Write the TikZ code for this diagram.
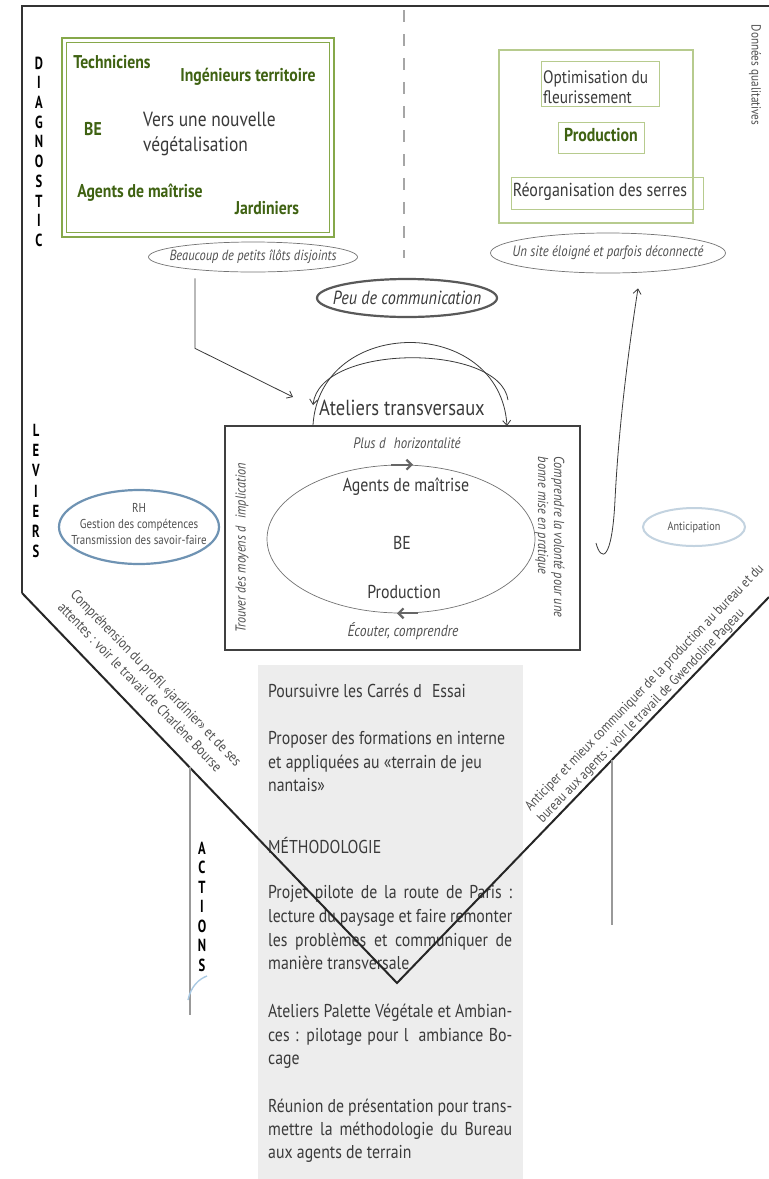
\documentclass[tikz,border=0pt]{standalone}
\usepackage{fontspec}
\usepackage{graphicx}
\setmainfont{PT Sans}[FakeStretch=0.85]
\newfontfamily\lettfont{PT Sans}[FakeStretch=0.72]
\usetikzlibrary{shapes.geometric,arrows.meta}
\definecolor{txt}{HTML}{3A3A3A}
\definecolor{itxt}{HTML}{505050}
\definecolor{gtxt}{HTML}{3F6212}
\definecolor{gline}{HTML}{86A84A}
\definecolor{lgline}{HTML}{B7CB8E}
\definecolor{grayfill}{HTML}{EDEDED}
\definecolor{rhblue}{HTML}{6F93B3}
\definecolor{antblue}{HTML}{C3D3E0}
\definecolor{markblue}{HTML}{A9C9E3}
\newcommand{\fsz}[2]{\fontsize{#1}{#2}\selectfont}
\newcommand{\gp}{\hspace{0.55em}}
\tikzset{
  t/.style={inner sep=0pt, text=txt},
  gb/.style={inner sep=0pt, text=gtxt, font=\fsz{18.5}{20}\bfseries},
  it/.style={inner sep=0pt, text=itxt, font=\fsz{14.7}{16}\itshape},
  oval/.style={ellipse, draw, inner sep=0pt},
  letter/.style={inner sep=0pt, font=\lettfont\fsz{17.5}{20}\bfseries, text=black},
  gl/.style={inner sep=0pt, text=txt, anchor=base west, font=\fsz{18.6}{23.5}},
  arr/.style={-{Straight Barb[length=5pt,width=8pt]}, draw=txt, line width=0.8pt},
  thickarr/.style={-{Straight Barb[length=5pt,width=10pt]}, draw=gray!80!black, line width=2.2pt},
}
\begin{document}
\begin{tikzpicture}[x=1pt,y=-1pt]
\useasboundingbox (0,0) rectangle (769,1179);
\fill[white] (0,0) rectangle (769,1179);

% gray box (actions)
\fill[grayfill] (258,665) rectangle (523,1179);
\node[gl] (g1) at (268,697) {Poursuivre les Carrés d\gp Essai};
\node[gl] (g2) at (268,744) {Proposer des formations en interne};
\node[gl] (g3) at (268,768) {et appliquées au «terrain de jeu};
\node[gl] (g4) at (268,791) {nantais»};
\node[gl] (g5) at (268,853) {MÉTHODOLOGIE};
\node[gl] (g6) at (268,898) {\makebox[244pt][s]{Projet pilote de la route de Paris :}};
\node[gl] (g7) at (268,922) {\makebox[244pt][s]{lecture du paysage et faire remonter}};
\node[gl] (g8) at (268,946) {\makebox[244pt][s]{les problèmes et communiquer de}};
\node[gl] (g9) at (268,969) {manière transversale};
\node[gl] (g10) at (268,1017) {\makebox[244pt][s]{Ateliers Palette Végétale et Ambian-}};
\node[gl] (g11) at (268,1041) {\makebox[244pt][s]{ces : pilotage pour l\gp ambiance Bo-}};
\node[gl] (g12) at (268,1064) {cage};
\node[gl] (g13) at (268,1112) {\makebox[244pt][s]{Réunion de présentation pour trans-}};
\node[gl] (g14) at (268,1135) {\makebox[244pt][s]{mettre la méthodologie du Bureau}};
\node[gl] (g15) at (268,1158) {aux agents de terrain};

% outer frame
\draw[line width=2.4pt, draw=black!80] (769,6) -- (22,6) -- (22,593);
\draw[line width=2pt, draw=black!85] (22,593) -- (397,983) -- (769,597);
% dashed separator
\draw[line width=2pt, draw=black!35, dash pattern=on 12pt off 12pt] (404,10) -- (404,258);
% gray verticals
\draw[line width=1.2pt, draw=black!40] (190,767) -- (190,1015);
\draw[line width=1.2pt, draw=black!40] (612,760) -- (612,925);
\draw[line width=1.4pt, draw=markblue] (188,1000) .. controls (191,986) and (199,979) .. (207,976);

% stacked letters
\foreach \l [count=\i] in {D,I,A,G,N,O,S,T,I,C}
  \node[letter] (dg\i) at (39,{63+(\i-1)*19.7}) {\l};
\foreach \l [count=\i] in {L,E,V,I,E,R,S}
  \node[letter] (lv\i) at (36,{430+(\i-1)*20.3}) {\l};
\foreach \l [count=\i] in {A,C,T,I,O,N,S}
  \node[letter] (ac\i) at (202,{848+(\i-1)*19.5}) {\l};

% top-left green box
\draw[gline, line width=2.2pt] (62,38) rectangle (334,237);
\draw[gline, line width=1.3pt] (66.5,42.5) rectangle (329.5,232.5);
\node[gb] (tech) at (112,62) {Techniciens};
\node[gb] (ing) at (248,77) {Ingénieurs territoire};
\node[gb] (be1) at (93,129) {BE};
\node[t, anchor=west, align=left, font=\fsz{20.5}{25}] (vers) at (143,134) {Vers une nouvelle\\végétalisation};
\node[gb] (agm1) at (140,193) {Agents de maîtrise};
\node[gb] (jard) at (267,208) {Jardiniers};

% top-right box
\draw[lgline, line width=2pt] (499,50) rectangle (693,223);
\draw[lgline, line width=1pt] (541,61) rectangle (659,106);
\draw[lgline, line width=1pt] (558,122) rectangle (644,153);
\draw[lgline, line width=1pt] (511,177) rectangle (703,209);
\node[t, anchor=west, align=left, font=\fsz{18}{20}] (opt) at (543,87) {Optimisation du\\fleurissement};
\node[gb, font=\fsz{18.7}{20}\bfseries] (prod1) at (601,135) {Production};
\node[t, font=\fsz{18.8}{20}] (reorg) at (600,192) {Réorganisation des serres};
\node[t, rotate=-90, text=itxt, font=\fsz{13.2}{16}] (donnees) at (755,75) {Données qualitatives};

% diagnostic ellipses
\node[oval, draw=black!55, line width=0.7pt, minimum width=209pt, minimum height=30pt] (b) at (253,257) {};
\node[it] (bt) at (b) {Beaucoup de petits îlôts disjoints};
\node[oval, draw=black!55, line width=0.7pt, minimum width=235pt, minimum height=40pt] (u) at (608,253) {};
\node[it, font=\fsz{15}{16}\itshape] (ut) at (u) {Un site éloigné et parfois déconnecté};
\node[oval, draw=black!65, line width=2.2pt, minimum width=180pt, minimum height=38pt] (p) at (407,298) {};
\node[it, text=txt, font=\fsz{19}{20}\itshape] (pt) at (p) {Peu de communication};

% leviers
\node[t, font=\fsz{21.8}{22}] (atel) at (402,408) {Ateliers transversaux};
\draw[line width=1.3pt, draw=black!75] (225,426) rectangle (580,650);
\coordinate (boxtl) at (313,425);
\coordinate (boxtr) at (507,426);
\node[it, font=\fsz{15.2}{16}\itshape] (hor) at (407,443) {Plus d\gp horizontalité};
\node[oval, draw=black!55, line width=0.7pt, minimum width=268pt, minimum height=148pt] (e) at (401,539) {};
\node[t, font=\fsz{18.7}{20}] (agm2) at (406,487) {Agents de maîtrise};
\node[t, font=\fsz{18.7}{20}] (be2) at (402,543) {BE};
\node[t, font=\fsz{18.7}{20}] (prod2) at (404,592) {Production};
\node[it, font=\fsz{16}{16}\itshape] (ecout) at (403,631) {Écouter, comprendre};
\node[it, rotate=90, font=\fsz{14.4}{16}\itshape] (trouv) at (242,548) {Trouver des moyens d\gp implication};
\node[it, rotate=-90, align=left, font=\fsz{14.5}{16}\itshape] (compr) at (550,537) {Comprendre la volonté pour une\\bonne mise en pratique};
\draw[thickarr] ([xshift=-10pt]e.north) -- ([xshift=12pt]e.north);
\draw[thickarr] ([xshift=17pt]e.south) -- ([xshift=-4pt]e.south);

\node[oval, draw=rhblue, line width=2.2pt, minimum width=160pt, minimum height=74pt] (rh) at (139,527) {};
\node[t, align=center, text=itxt, font=\fsz{12.9}{16}] (rht) at (139,524) {RH\\Gestion des compétences\\Transmission des savoir-faire};
\node[oval, draw=antblue, line width=2pt, minimum width=102pt, minimum height=38pt] (ant) at (694,527) {};
\node[t, text=itxt, font=\fsz{12}{14}] (antt) at (ant) {Anticipation};

% arcs above the box
\draw[arr] (boxtl) .. controls (320,315) and (500,315) .. (boxtr);
\draw[arr] (508,400) .. controls (500,343) and (320,343) .. (313,405);

% arrows
\coordinate (ain) at (293,397);
\draw[arr] ([xshift=-58pt,yshift=-6pt]b.south) -- ++(0,70) -- (ain);
\coordinate (jstart) at (596,543);
\draw[arr] (jstart) .. controls (601,562) and (612,562) .. (615,500) .. controls (619,420) and (630,340) .. ([xshift=30pt,yshift=-15pt]u.south);

% slanted texts
\node[t, rotate=-46, align=left, text=itxt, font=\fsz{14.5}{18}] (lslant) at (150,684) {Compréhension du profil «jardinier» et de ses\\attentes : voir le travail de Charlène Bourse};
\node[t, rotate=46, align=left, text=itxt, font=\fsz{14}{17}] (rslant) at (651,694) {Anticiper et mieux communiquer de la production au bureau et du\\bureau aux agents : voir le travail de Gwendoline Pageau};
\end{tikzpicture}
\end{document}
